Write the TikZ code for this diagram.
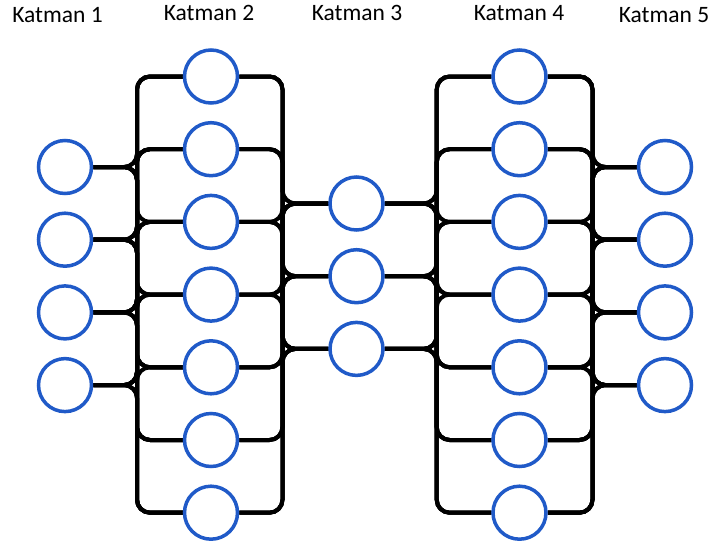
\documentclass[tikz,border=0pt]{standalone}
\usepackage{fontspec}
\setmainfont{Carlito}
\usetikzlibrary{backgrounds}

\definecolor{unitblue}{RGB}{32,90,200}

\begin{document}
\begin{tikzpicture}[x=1pt,y=-1pt,
    unit/.style={circle, draw=unitblue, line width=3.5pt, fill=white, minimum size=53pt, inner sep=0pt},
    link/.style={line width=4pt, rounded corners=13pt},
    title/.style={anchor=base, font=\fontsize{23.5}{28}\selectfont}]
\useasboundingbox (0,0) rectangle (713,547);

% layer titles
\node[title] (t1) at (57.5,22.7) {Katman 1};
\node[title] (t2) at (209,20.7) {Katman 2};
\node[title] (t3) at (357,20.7) {Katman 3};
\node[title] (t4) at (519,20.7) {Katman 4};
\node[title] (t5) at (664,22.7) {Katman 5};

% units of each layer
\foreach \i in {0,...,3} {
    \node[unit] (a\i) at (65,167+\i*72.7) {};
    \node[unit] (e\i) at (665,167+\i*72.7) {};
}
\foreach \i in {0,...,6} {
    \node[unit] (b\i) at (211,76.5+\i*72.7) {};
    \node[unit] (d\i) at (519.5,76.5+\i*72.7) {};
}
\foreach \i in {0,1,2}
    \node[unit] (c\i) at (356.5,203.5+\i*72.7) {};

% vertical buses between the layers
\coordinate (ab) at (137,0);
\coordinate (bc) at (282.5,0);
\coordinate (cd) at (436.7,0);
\coordinate (de) at (592.5,0);

\begin{scope}[on background layer]
\foreach \i in {0,...,3}
  \foreach \j in {0,...,6} {
    \draw[link] (a\i.east) -- (a\i -| ab) |- (b\j.west);
    \draw[link] (d\j.east) -- (d\j -| de) |- (e\i.west);
  }
\foreach \i in {0,...,6}
  \foreach \j in {0,1,2} {
    \draw[link] (b\i.east) -- (b\i -| bc) |- (c\j.west);
    \draw[link] (c\j.east) -- (c\j -| cd) |- (d\i.west);
  }
\end{scope}
\end{tikzpicture}
\end{document}
